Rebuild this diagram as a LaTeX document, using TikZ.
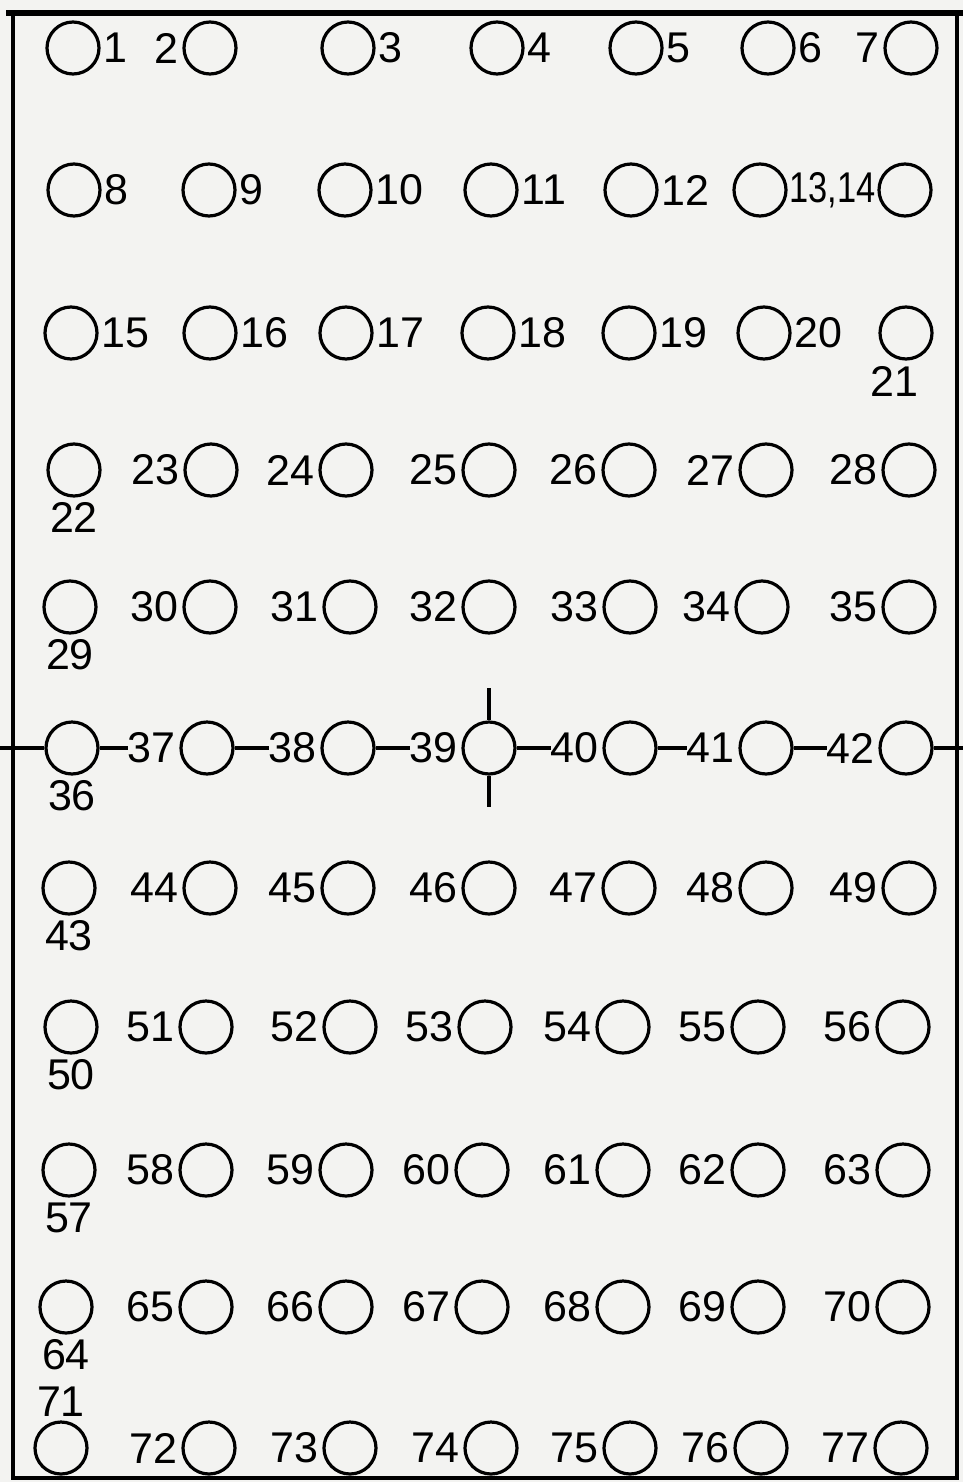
\documentclass[tikz,border=0pt]{standalone}
\usepackage{fontspec}
\setmainfont{Liberation Sans}
\usetikzlibrary{positioning}

\definecolor{paper}{RGB}{243,243,241}

\begin{document}
\begin{tikzpicture}[
    x=1pt, y=-1pt,
    line width=3.2pt,
    hole/.style={circle, draw=black, line width=3.2pt, minimum size=52pt, inner sep=0pt},
    num/.style={inner sep=0pt, outer sep=0pt, font=\fontsize{43}{48}\selectfont}
]

\fill[paper] (0,0) rectangle (963,1482);
\useasboundingbox (0,0) rectangle (963,1482);

% frame
\draw[line width=4pt] (13,13) rectangle (957,1478);
\draw[line width=6pt] (6,13) -- (963,13);

% the holes, row by row
\foreach \n/\x/\y in {
    1/73/48, 2/210/48, 3/348/48, 4/497/48, 5/636/48, 6/768/48, 7/911/48,
    8/74/190, 9/209/190, 10/345/190, 11/491/190, 12/631/190, 13/760/190, 14/905/190,
    15/71/333, 16/210/333, 17/346/333, 18/488/333, 19/629/333, 20/764/333, 21/906/333,
    22/74/470, 23/211/470, 24/346/470, 25/489/470, 26/629/470, 27/766/470, 28/909/470,
    29/70/607, 30/210/607, 31/350/607, 32/489/607, 33/630/607, 34/762/607, 35/909/607,
    36/72/748, 37/207/748, 38/348/748, 39/489/748, 40/630/748, 41/766/748, 42/906/748,
    43/69/888, 44/210/888, 45/348/888, 46/489/888, 47/629/888, 48/766/888, 49/909/888,
    50/71/1027, 51/206/1027, 52/350/1027, 53/485/1027, 54/623/1027, 55/758/1027, 56/903/1027,
    57/69/1170, 58/206/1170, 59/346/1170, 60/482/1170, 61/623/1170, 62/758/1170, 63/903/1170,
    64/66/1307, 65/206/1307, 66/346/1307, 67/482/1307, 68/623/1307, 69/758/1307, 70/903/1307,
    71/61/1448, 72/209/1448, 73/350/1448, 74/491/1448, 75/630/1448, 76/761/1448, 77/901/1448}
    \node[hole] (c\n) at (\x,\y) {};

% numbers
\foreach \n in {1,3,4,5,6,8,9,10,11,12,15,16,17,18,19,20}
    \node[num, right=3pt of c\n] (l\n) {\n};
\foreach \n in {2,7}
    \node[num, left=4pt of c\n] (l\n) {\n};
\foreach \r in {22,29,36,43,50,57,64,71} {
    \foreach \k in {1,...,6} {
        \pgfmathtruncatemacro{\n}{\r+\k}
        \node[num, left=4pt of c\n] (l\n) {\n};
    }
}
\foreach \n in {22,29,36,43,50,57,64}
    \node[num, below=5pt of c\n] (l\n) {\n};
\node[num, above=4pt of c71] (l71) {71};
\node[num, below=6pt of c21, xshift=-12pt] (l21) {21};
\node[num, right=2pt of c13] (l13) {\scalebox{0.8}[1]{13,14}};

% the centre line and cross mark
\coordinate (edgeL) at (0,748);
\coordinate (edgeR) at (963,748);
\coordinate (tickT) at (489,688);
\coordinate (tickB) at (489,807);

\draw (edgeL) -- (c36);
\draw (c36) -- (l37);
\draw (c37) -- (l38);
\draw (c38) -- (l39);
\draw (c39) -- (l40);
\draw (c40) -- (l41);
\draw (c41) -- (l42);
\draw (c42) -- (edgeR);
\draw (tickT) -- (c39);
\draw (c39) -- (tickB);

\end{tikzpicture}
\end{document}
